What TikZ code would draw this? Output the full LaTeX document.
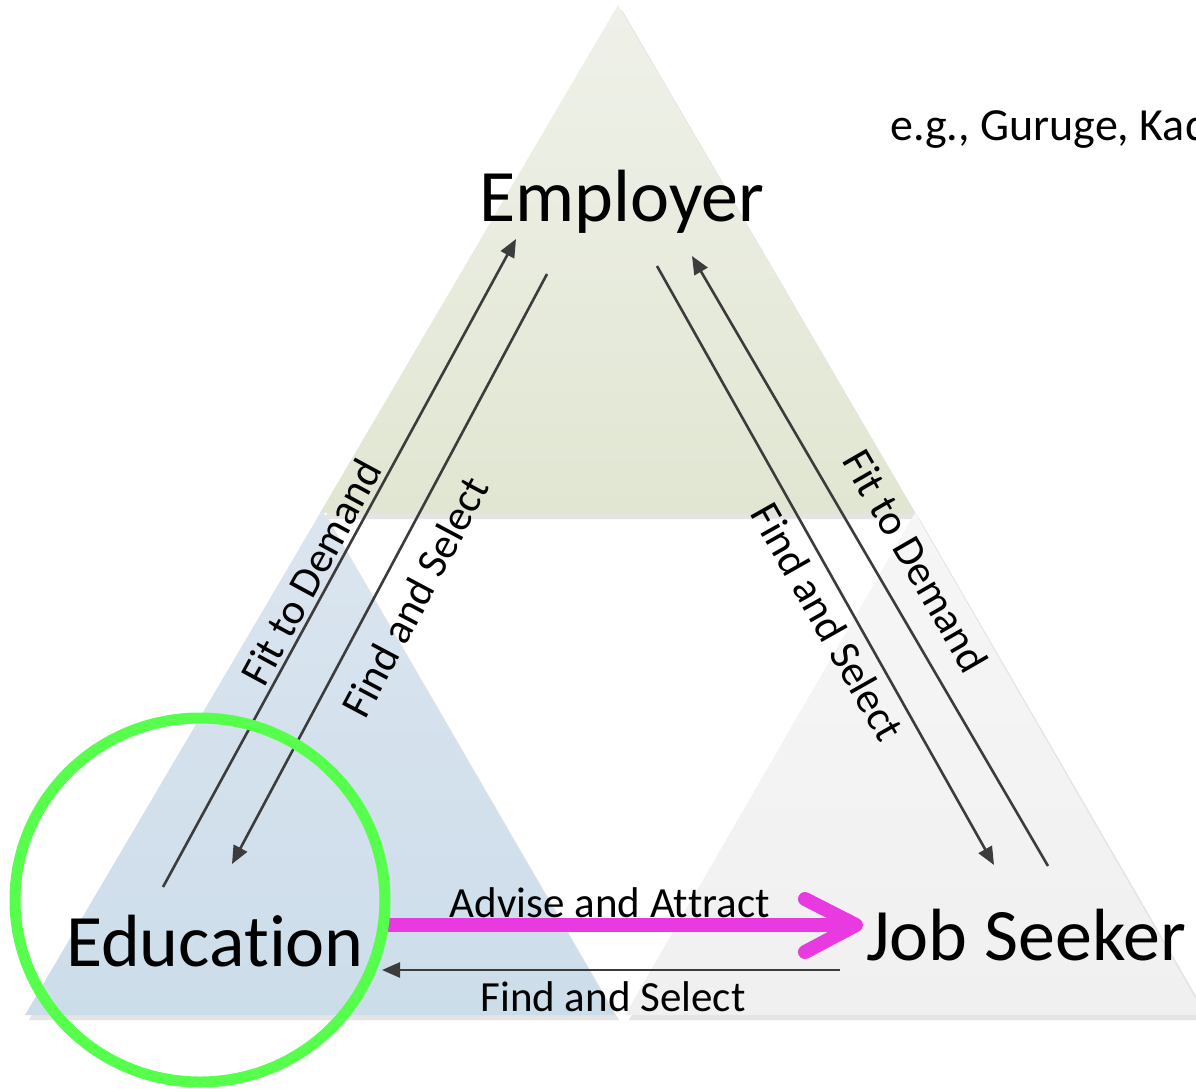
\documentclass[tikz,border=0pt]{standalone}
\usepackage{fontspec}
\setmainfont{Carlito}[RawFeature={-liga;-clig;-calt;-dlig}]
\usetikzlibrary{arrows.meta,calc}
\definecolor{arrowgrey}{HTML}{3C3C3C}
\definecolor{magentaA}{HTML}{E83AE0}
\definecolor{greenC}{HTML}{55FF4B}
\definecolor{shadowG}{HTML}{E4E4E4}
\tikzset{
  conn/.style={draw=arrowgrey, line width=2.6pt, -{Triangle[length=18pt,width=15pt]}},
  bigtext/.style={font=\fontsize{74}{80}\selectfont, inner sep=0pt},
  lbl/.style={font=\fontsize{43}{48}\selectfont, inner sep=0pt},
  tri/.style={draw=none},
  shadowtri/.style={fill=shadowG, draw=none},
}
\begin{document}
\begin{tikzpicture}[x=1pt,y=-1pt]
\useasboundingbox (0,0) rectangle (1196,1088);
\clip (0,0) rectangle (1196,1088);
\fill[white] (0,0) rectangle (1196,1088);
% shadows
\fill[shadowtri] (622,10) -- (324,519) -- (919,519) -- cycle;
\fill[shadowtri] (326,515) -- (29,1020) -- (619,1020) -- cycle;
\fill[shadowtri] (919,518) -- (629,1020) -- (1210,1020) -- cycle;
% triangles
\shade[tri, top color={rgb,255:red,239;green,241;blue,233}, bottom color={rgb,255:red,225;green,230;blue,210}] (618,5) -- (320,513) -- (915,513) -- cycle;
\shade[tri, top color={rgb,255:red,219;green,229;blue,239}, bottom color={rgb,255:red,204;green,221;blue,234}] (322,510) -- (25,1015) -- (615,1015) -- cycle;
\shade[tri, top color={rgb,255:red,246;green,246;blue,246}, bottom color={rgb,255:red,240;green,240;blue,240}] (915,513) -- (625,1015) -- (1205,1015) -- cycle;
% main nodes
\node[bigtext, anchor=base] (emp) at (622,221) {Employer};
\node[bigtext, anchor=base] (edu) at (215,966) {Educat\kern0pt ion};
\node[bigtext, anchor=base west] (job) at (866,960) {Job Seeker};
\node[font=\fontsize{46}{50}\selectfont, inner sep=0pt, anchor=base west] (ref) at (890,140) {e.g., Guruge, Kad};
% connector end points
\coordinate (a1s) at (163,887);  \coordinate (a1e) at (516,239);
\coordinate (a2s) at (547,274);  \coordinate (a2e) at (232,864);
\coordinate (a3s) at (657,266);  \coordinate (a3e) at (994,865);
\coordinate (a4s) at (1048,866); \coordinate (a4e) at (692,256);
\coordinate (a5s) at (840,970);  \coordinate (a5e) at (382,970);
\coordinate (m1s) at (383,925);  \coordinate (m1e) at (856,925);
\coordinate (m1a) at (805,899);  \coordinate (m1b) at (805,952);
\coordinate (m1c) at (850,925);
% connectors
\draw[conn] (a1s) -- (a1e);
\draw[conn] (a2s) -- (a2e);
\draw[conn] (a3s) -- (a3e);
\draw[conn] (a4s) -- (a4e);
\draw[conn] (a5s) -- (a5e);
\draw[magentaA, line width=14pt] (m1s) -- (m1c);
\draw[magentaA, line width=14pt, line cap=round, line join=round] (m1a) -- (m1e) -- (m1b);
% labels
\node[lbl, rotate=61.5] (l1) at (311,572) {Fit to Demand};
\node[lbl, rotate=62] (l2) at (415,597) {Find and Select};
\node[lbl, rotate=-60.5] (l3) at (828,622) {Find and Select};
\node[lbl, rotate=-60] (l4) at (916,561) {Fit to Demand};
\node[lbl, anchor=base] (l5) at (610,917) {Advise and At\kern0pt t\kern0pt ract};
\node[lbl, anchor=base] (l6) at (613,1011) {Find and Select};
% highlight circle
\draw[greenC, line width=11pt] (200,900) ellipse [x radius=185, y radius=182];
\end{tikzpicture}
\end{document}
